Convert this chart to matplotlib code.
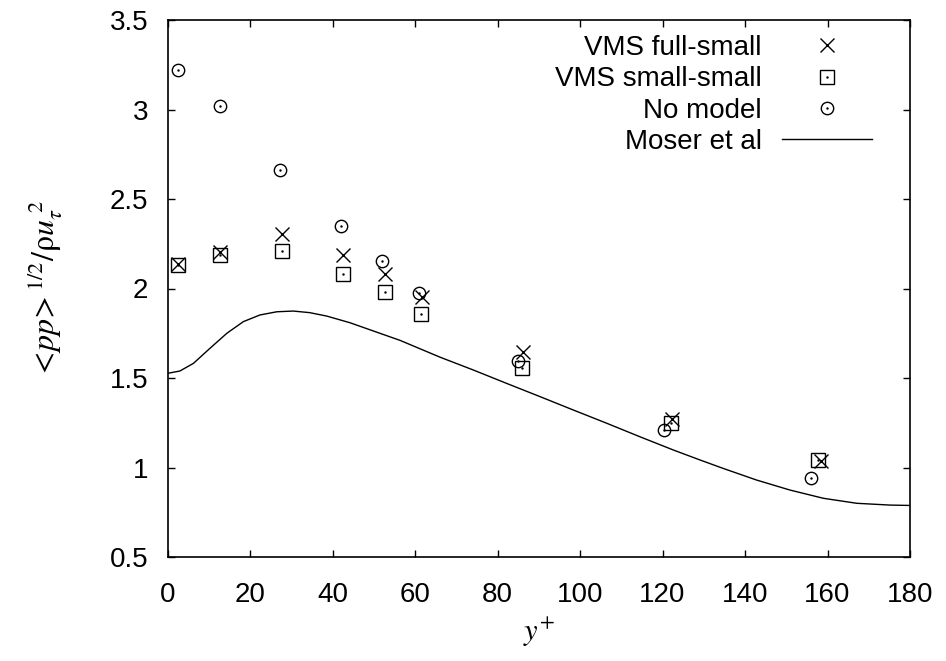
from matplotlib import pyplot as plt

# VMS full-small
full_x = [2.6, 12.7, 27.8, 42.6, 52.8, 61.6, 86.3, 122.4, 158.5]
full_y = [2.137, 2.202, 2.303, 2.187, 2.081, 1.954, 1.643, 1.269, 1.036]

# VMS small-small
small_x = [2.6, 12.7, 27.7, 42.5, 52.65, 61.45, 85.9, 122.0, 157.8]
small_y = [2.131, 2.187, 2.209, 2.081, 1.979, 1.858, 1.558, 1.249, 1.042]

# No model
nomod_x = [2.6, 12.7, 27.3, 42.06, 52.1, 60.9, 85.0, 120.4, 156.1]
nomod_y = [3.221, 3.018, 2.662, 2.349, 2.155, 1.973, 1.597, 1.209, 0.941]

# Moser et al (DNS)
moser_x = [0, 3.0, 6.3, 10.3, 14.4, 18.4, 22.4, 26.5, 30.5, 34.5, 38.6, 44.2,
           56.4, 66.1, 74.1, 82.2, 90.3, 98.4, 106.5, 114.5, 122.6, 129.1,
           134.7, 142.8, 150.9, 159.0, 167.1, 175.2, 180.0]
moser_y = [1.526, 1.539, 1.582, 1.666, 1.750, 1.815, 1.852, 1.870, 1.874, 1.865,
           1.846, 1.809, 1.710, 1.616, 1.545, 1.470, 1.396, 1.321, 1.247, 1.172,
           1.098, 1.042, 0.995, 0.930, 0.874, 0.828, 0.800, 0.790, 0.788]

x_ticks = [0, 20, 40, 60, 80, 100, 120, 140, 160, 180]
y_ticks = [0.5, 1, 1.5, 2, 2.5, 3, 3.5]
y_tick_labels = ['0.5', '1', '1.5', '2', '2.5', '3', '3.5']


def main():
    plt.rcParams['font.family'] = ['Liberation Sans', 'DejaVu Sans']
    plt.rcParams['mathtext.fontset'] = 'stix'

    fig = plt.figure(figsize=(9.46, 6.61), dpi=100)
    ax = fig.add_axes([167.5 / 946, 1 - 557 / 661, (910 - 167.5) / 946, (557 - 20) / 661])

    ms = dict(color='black', linestyle='none', markeredgewidth=1.0)
    h_full, = ax.plot(full_x, full_y, marker='x', markersize=9.6, **ms)
    h_small, = ax.plot(small_x, small_y, marker='s', markersize=9.6, fillstyle='none', **ms)
    d_small, = ax.plot(small_x, small_y, marker='.', markersize=1.5, **ms)
    h_nomod, = ax.plot(nomod_x, nomod_y, marker='o', markersize=8.9, fillstyle='none', **ms)
    d_nomod, = ax.plot(nomod_x, nomod_y, marker='.', markersize=1.5, **ms)
    h_moser, = ax.plot(moser_x, moser_y, color='black', linewidth=1.0)

    ax.set_xlim(0, 180)
    ax.set_ylim(0.5, 3.5)
    ax.set_xticks(x_ticks)
    ax.set_yticks(y_ticks)
    ax.set_yticklabels(y_tick_labels)
    ax.tick_params(direction='in', length=5, width=1, top=True, right=True, labelsize=20)
    ax.tick_params(axis='x', pad=18)
    ax.tick_params(axis='y', pad=14)
    for s in ax.spines.values():
        s.set_linewidth(1.2)

    ax.set_xlabel(r'$y^{+}$', fontsize=22, labelpad=6)
    ax.set_ylabel(r'$<\!pp\!>^{\mathit{1/2}}/\mathrm{\rho} u_{\tau}^{\ 2}$', fontsize=23, labelpad=32)

    ax.legend([h_full, (h_small, d_small), (h_nomod, d_nomod), h_moser],
              ['VMS full-small', 'VMS small-small', 'No model', 'Moser et al'],
              loc='upper right', bbox_to_anchor=(0.9484, 0.972),
              markerfirst=False, frameon=False, fontsize=20,
              handlelength=3.24, handletextpad=0.72, labelspacing=0.19,
              borderpad=0, borderaxespad=0)

    fig.savefig('out.png', dpi=100)


if __name__ == '__main__':
    main()
